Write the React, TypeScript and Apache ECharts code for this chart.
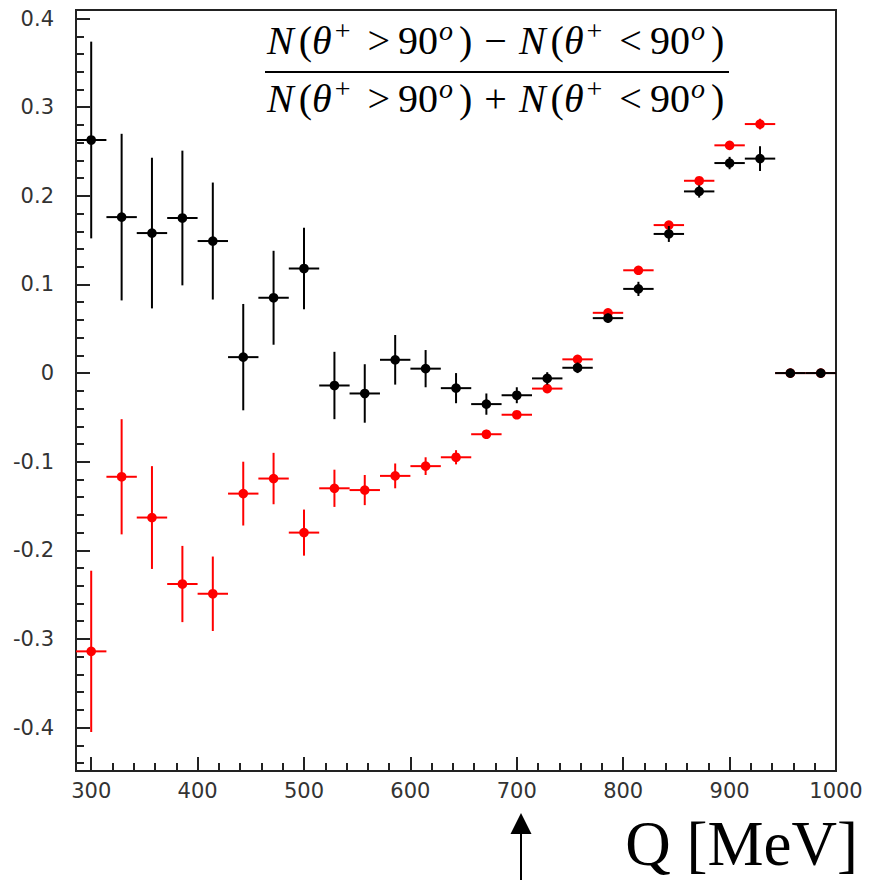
import React, { useEffect, useRef } from "react";
import * as echarts from "echarts";

// Bin centres (Q in MeV), bin half-width 100/7 MeV
const binCenters = [300, 328.6, 357.1, 385.7, 414.3, 442.9, 471.4, 500, 528.6, 557.1, 585.7, 614.3, 642.9, 671.4, 700, 728.6, 757.1, 785.7, 814.3, 842.9, 871.4, 900, 928.6, 957.1, 985.7];
const binHalfWidth = 14.29;

const blackValues = [0.263, 0.176, 0.158, 0.175, 0.149, 0.018, 0.085, 0.118, -0.014, -0.023, 0.015, 0.005, -0.017, -0.035, -0.025, -0.006, 0.006, 0.062, 0.095, 0.157, 0.205, 0.237, 0.242, 0, 0];
const blackErrors = [0.111, 0.094, 0.085, 0.076, 0.066, 0.06, 0.053, 0.046, 0.038, 0.033, 0.028, 0.021, 0.017, 0.012, 0.009, 0.007, 0.006, 0.005, 0.008, 0.009, 0.007, 0.007, 0.014, 0, 0];

const redValues = [-0.314, -0.117, -0.163, -0.238, -0.249, -0.136, -0.119, -0.18, -0.13, -0.132, -0.116, -0.105, -0.095, -0.069, -0.047, -0.0175, 0.0155, 0.068, 0.116, 0.167, 0.217, 0.257, 0.281, 0, 0];
const redErrors = [0.091, 0.065, 0.058, 0.043, 0.042, 0.036, 0.029, 0.026, 0.021, 0.017, 0.014, 0.01, 0.008, 0.005, 0.004, 0.003, 0.003, 0.003, 0.003, 0.003, 0.003, 0.003, 0.006, 0, 0];

const xMin = 285.714;
const xMax = 1000;
const yMin = -0.449;
const yMax = 0.4097;

const xTitle = "Q [MeV]";

const AXIS_COLOR = "#222";
const LABEL_FONT = "DejaVu Sans";
const SERIF = "'Liberation Serif'";

function makeErrorSeries(name: string, xs: number[], ys: number[], es: number[], color: string) {
  return {
    type: "custom",
    name,
    clip: true,
    data: xs.map((x, i) => [x, ys[i], es[i]]),
    renderItem: (params: any, api: any) => {
      const x = api.value(0);
      const y = api.value(1);
      const e = api.value(2);
      const c = api.coord([x, y]);
      const l = api.coord([x - binHalfWidth, y]);
      const r = api.coord([x + binHalfWidth, y]);
      const t = api.coord([x, y + e]);
      const b = api.coord([x, y - e]);
      const children: any[] = [
        { type: "line", shape: { x1: l[0], y1: c[1], x2: r[0], y2: c[1] }, style: { stroke: color, lineWidth: 2 } },
      ];
      if (e > 0) {
        children.push({ type: "line", shape: { x1: c[0], y1: t[1], x2: c[0], y2: b[1] }, style: { stroke: color, lineWidth: 2 } });
      }
      children.push({ type: "circle", shape: { cx: c[0], cy: c[1], r: 4.8 }, style: { fill: color } });
      return { type: "group", children };
    },
  };
}

function fractionRow(op: string) {
  return (
    "{n|N}{r|(}{t|θ}{s|+}{g|>}{d|90}{o|o}{p|)}{m|" + op + "}" +
    "{n|N}{r|(}{t|θ}{s|+}{g|<}{d|90}{o|o}{e|)}"
  );
}

const MAIN = "40px " + SERIF;
const ITAL = "italic 40px " + SERIF;
const SUP = "28px " + SERIF;
const SUPI = "italic 28px " + SERIF;
const LH = 56;

const richStyles: any = {
  n: { font: ITAL, lineHeight: LH, fill: "#000", padding: [0, 5, 0, 0] },
  t: { font: ITAL, lineHeight: LH, fill: "#000", padding: [0, 2, 0, 0] },
  r: { font: MAIN, lineHeight: LH, fill: "#000" },
  g: { font: MAIN, lineHeight: LH, fill: "#000", padding: [0, 8, 0, 0] },
  d: { font: MAIN, lineHeight: LH, fill: "#000" },
  p: { font: MAIN, lineHeight: LH, fill: "#000", padding: [0, 12, 0, 0] },
  e: { font: MAIN, lineHeight: LH, fill: "#000" },
  m: { font: MAIN, lineHeight: LH, fill: "#000", padding: [0, 12, 0, 0] },
  s: { font: SUP, lineHeight: 20, fill: "#000", verticalAlign: "top", padding: [4, 17, 0, 1] },
  o: { font: SUPI, lineHeight: 20, fill: "#000", verticalAlign: "top", padding: [4, 6, 0, 1] },
};

export default function App() {
  const ref = useRef<HTMLDivElement>(null);
  useEffect(() => {
    if (!ref.current) return;
    const chart = echarts.init(ref.current, undefined, { renderer: "svg" });
    chart.setOption({
      animation: false,
      backgroundColor: "#fff",
      grid: {
        left: 76,
        top: 10,
        right: 33,
        bottom: 109,
        show: true,
        borderColor: AXIS_COLOR,
        borderWidth: 2,
        backgroundColor: "transparent",
      },
      xAxis: {
        type: "value",
        min: xMin,
        max: xMax,
        splitNumber: 7,
        axisLine: { show: false, onZero: false },
        axisTick: { show: true, inside: true, length: 14, lineStyle: { color: AXIS_COLOR, width: 2 } },
        minorTick: { show: true, splitNumber: 5, length: 8, lineStyle: { color: AXIS_COLOR, width: 2 } },
        splitLine: { show: false },
        axisLabel: {
          showMinLabel: false,
          margin: 9,
          fontFamily: LABEL_FONT,
          fontSize: 21,
          color: "#333",
          formatter: (v: number) => String(v),
        },
      },
      yAxis: {
        type: "value",
        min: yMin,
        max: yMax,
        splitNumber: 8,
        axisLine: { show: false, onZero: false },
        axisTick: { show: true, inside: true, length: 14, lineStyle: { color: AXIS_COLOR, width: 2 } },
        minorTick: { show: true, splitNumber: 5, length: 8, lineStyle: { color: AXIS_COLOR, width: 2 } },
        splitLine: { show: false },
        axisLabel: { showMinLabel: false, showMaxLabel: false, margin: 22, fontFamily: LABEL_FONT, fontSize: 21, color: "#333" },
      },
      series: [
        makeErrorSeries("red", binCenters, redValues, redErrors, "#ff0000"),
        makeErrorSeries("black", binCenters, blackValues, blackErrors, "#000000"),
      ],
      graphic: [
        {
          type: "text",
          left: 267,
          top: 12,
          style: { text: fractionRow("−"), rich: richStyles, fill: "#000", font: MAIN },
        },
        {
          type: "line",
          shape: { x1: 265, y1: 72, x2: 729, y2: 72 },
          style: { stroke: "#000", lineWidth: 2 },
        },
        {
          type: "text",
          left: 267,
          top: 70,
          style: { text: fractionRow("+"), rich: richStyles, fill: "#000", font: MAIN },
        },
        {
          type: "text",
          right: 11,
          top: 812,
          style: { text: xTitle, fill: "#000", font: "63px " + SERIF },
        },
        {
          type: "line",
          shape: { x1: 521, y1: 830, x2: 521, y2: 880 },
          style: { stroke: "#000", lineWidth: 2 },
        },
        {
          type: "polygon",
          shape: { points: [[521, 813], [510.5, 834], [531.5, 834]] },
          style: { fill: "#000" },
        },
      ],
    });
    return () => chart.dispose();
  }, []);
  return <div ref={ref} style={{ position: "fixed", left: 0, top: 0, width: 869, height: 880 }} />;
}
